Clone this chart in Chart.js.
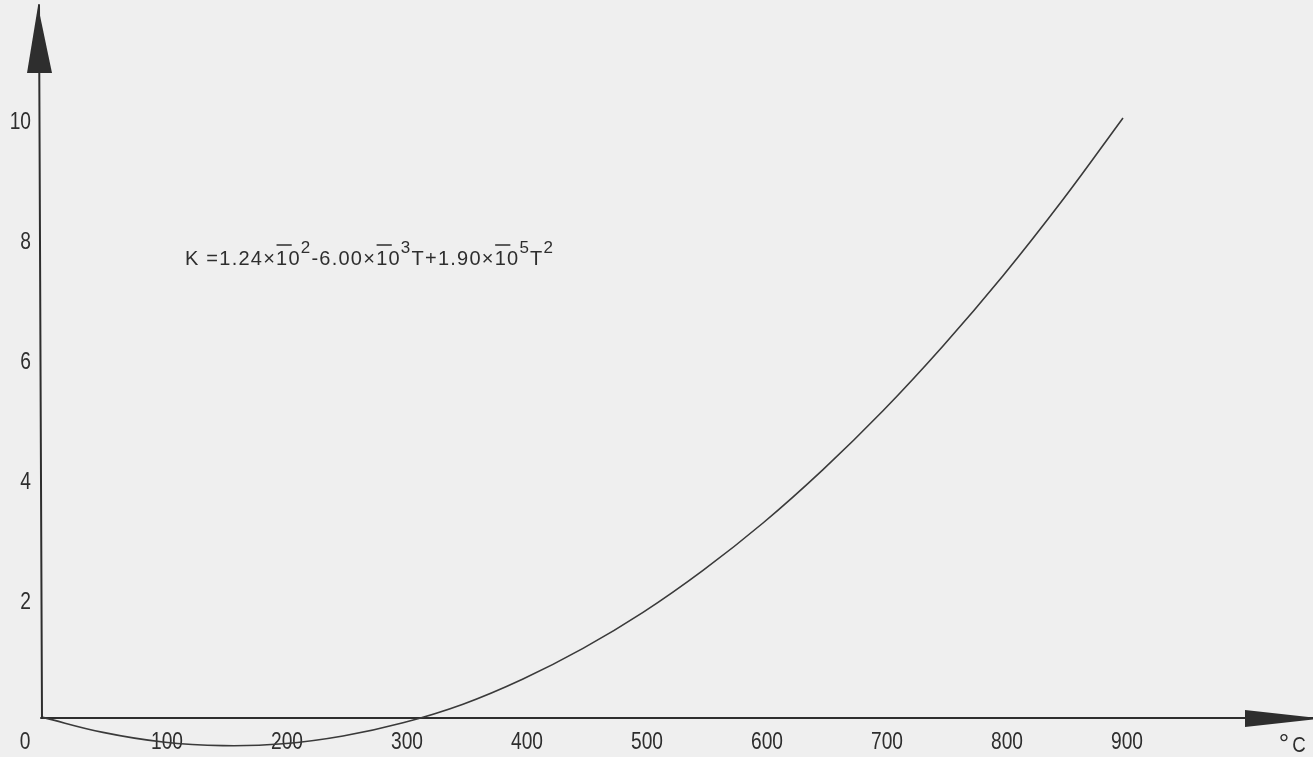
<!DOCTYPE html>
<html><head><meta charset="utf-8">
<script src="https://cdn.jsdelivr.net/npm/chart.js@4.4.1/dist/chart.umd.min.js"></script>
<style>
html,body{margin:0;padding:0;background:#efefef;}
#wrap{width:1313px;height:757px;position:relative;}
</style>
</head><body>
<div id="wrap"><canvas id="c"></canvas></div>
<script>
// ---- data ----
const temperatures = [0, 50, 100, 150, 200, 250, 300, 350, 400, 450, 500, 550, 600, 650, 700, 750, 800, 850, 900];
const kValues = [0.01, -0.24, -0.40, -0.46, -0.43, -0.30, -0.08, 0.23, 0.65, 1.16, 1.76, 2.46, 3.25, 4.14, 5.12, 6.20, 7.37, 8.64, 10.0];
const xTickValues = [100, 200, 300, 400, 500, 600, 700, 800, 900];
const xTickLabels = ['100', '200', '300', '400', '500', '600', '700', '800', '900'];
const yTickValues = [2, 4, 6, 8, 10];
const yTickLabels = ['2', '4', '6', '8', '10'];
const originLabel = '0';
const unitDegree = '°';
const unitLetter = 'C';
const equationParts = [
  {text: 'K', sup: false},
  {text: ' =', sup: false},
  {text: '1.24', sup: false},
  {text: '×', sup: false},
  {text: '10', sup: false, bar: true},
  {text: '2', sup: true},
  {text: '-', sup: false},
  {text: '6.00', sup: false},
  {text: '×', sup: false},
  {text: '10', sup: false, bar: true},
  {text: '3', sup: true},
  {text: 'T', sup: false},
  {text: '+', sup: false},
  {text: '1.90', sup: false},
  {text: '×', sup: false},
  {text: '10', sup: false, bar: true},
  {text: '5', sup: true},
  {text: 'T', sup: false},
  {text: '2', sup: true}
];

const INK = '#2e2e2e';
const LABEL_FONT = '24px "Liberation Sans", Arial, sans-serif';

const axesPlugin = {
  id: 'handAxes',
  beforeDatasetsDraw(chart) {
    const ctx = chart.ctx;
    const xs = chart.scales.x, ys = chart.scales.y;
    const x0 = xs.getPixelForValue(0);
    const y0 = ys.getPixelForValue(0);
    const W = chart.width;
    ctx.save();
    ctx.strokeStyle = INK;
    ctx.fillStyle = INK;
    ctx.lineWidth = 2;
    ctx.lineCap = 'round';
    // y axis
    ctx.beginPath();
    ctx.moveTo(x0 - 1, y0);
    ctx.lineTo(x0 - 4, 5);
    ctx.stroke();
    // y arrow head
    ctx.beginPath();
    ctx.moveTo(x0 - 5, 6);
    ctx.lineTo(x0 - 16, 73);
    ctx.lineTo(x0 + 9, 73);
    ctx.closePath();
    ctx.fill();
    // x axis
    ctx.beginPath();
    ctx.moveTo(x0 - 2, y0);
    ctx.lineTo(W, y0);
    ctx.stroke();
    // x arrow head
    ctx.beginPath();
    ctx.moveTo(1245, y0 - 8);
    ctx.lineTo(W + 8, y0 + 0.5);
    ctx.lineTo(1245, y0 + 9);
    ctx.closePath();
    ctx.fill();

    // tick labels (narrow hand-lettered look)
    ctx.font = LABEL_FONT;
    ctx.textBaseline = 'middle';
    const sx = 0.8;
    xTickValues.forEach((v, i) => {
      const px = xs.getPixelForValue(v) + 4;
      ctx.save();
      ctx.translate(px, y0 + 24);
      ctx.scale(sx, 1);
      ctx.textAlign = 'center';
      ctx.fillText(xTickLabels[i], 0, 0);
      ctx.restore();
    });
    // origin label
    ctx.save();
    ctx.translate(x0 - 18, y0 + 24);
    ctx.scale(sx, 1);
    ctx.textAlign = 'center';
    ctx.fillText(originLabel, 0, 0);
    ctx.restore();
    // y labels
    yTickValues.forEach((v, i) => {
      const py = ys.getPixelForValue(v) + 4;
      ctx.save();
      ctx.translate(x0 - 12, py);
      ctx.scale(sx, 1);
      ctx.textAlign = 'right';
      ctx.fillText(yTickLabels[i], 0, 0);
      ctx.restore();
    });
    // unit
    ctx.save();
    ctx.font = '26px "Liberation Sans", Arial, sans-serif';
    ctx.textAlign = 'center';
    ctx.fillText(unitDegree, 1284, y0 + 27);
    ctx.font = '22px "Liberation Sans", Arial, sans-serif';
    ctx.translate(1299, y0 + 28);
    ctx.scale(0.85, 1);
    ctx.fillText(unitLetter, 0, 0);
    ctx.restore();

    // equation
    drawEquation(ctx, 185, 265, 368);
    ctx.restore();
  }
};

function drawEquation(ctx, startX, baseline, targetWidth) {
  const baseFont = '20px "Liberation Sans", Arial, sans-serif';
  const supFont = '17px "Liberation Sans", Arial, sans-serif';
  let natural = 0, nChars = 0;
  equationParts.forEach(p => {
    ctx.font = p.sup ? supFont : baseFont;
    for (const ch of p.text) { natural += ctx.measureText(ch).width; nChars++; }
  });
  const spacing = (targetWidth - natural) / (nChars - 1);
  let cx = startX;
  ctx.textAlign = 'left';
  ctx.textBaseline = 'alphabetic';
  equationParts.forEach(p => {
    ctx.font = p.sup ? supFont : baseFont;
    const y = p.sup ? baseline - 12 : baseline;
    let first = true;
    for (const ch of p.text) {
      const w = ctx.measureText(ch).width;
      ctx.fillText(ch, cx, y);
      if (p.bar && first) {
        ctx.save();
        ctx.lineWidth = 1.5;
        ctx.beginPath();
        ctx.moveTo(cx + 1, baseline - 20);
        ctx.lineTo(cx + w + 4, baseline - 20);
        ctx.stroke();
        ctx.restore();
      }
      first = false;
      cx += w + spacing;
    }
  });
}

const X0PX = 43, XPX = 1.2;      // layout only
const Y0PX = 718, YPX = 60;

new Chart(document.getElementById('c'), {
  type: 'scatter',
  data: {
    datasets: [{
      data: temperatures.map((t, i) => ({x: t, y: kValues[i]})),
      showLine: true,
      borderColor: '#3a3a3a',
      borderWidth: 1.6,
      pointRadius: 0,
      tension: 0.4,
      fill: false
    }]
  },
  options: {
    responsive: true,
    maintainAspectRatio: false,
    animation: false,
    layout: {padding: 0},
    plugins: {legend: {display: false}, tooltip: {enabled: false}},
    scales: {
      x: {type: 'linear', display: false, min: -X0PX / XPX, max: (1313 - X0PX) / XPX},
      y: {type: 'linear', display: false, min: -(757 - Y0PX) / YPX, max: Y0PX / YPX}
    }
  },
  plugins: [axesPlugin]
});
</script>
</body></html>
